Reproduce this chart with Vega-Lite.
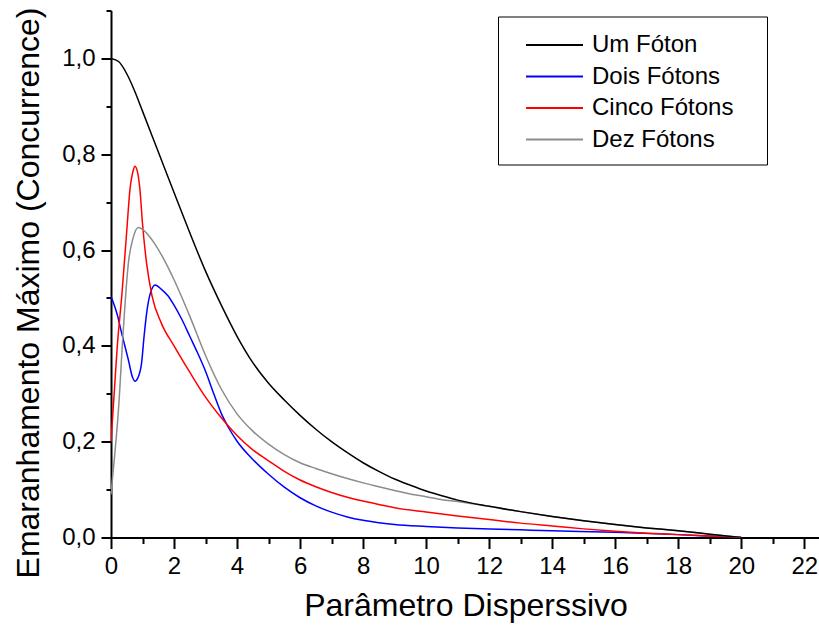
{
  "$schema": "https://vega.github.io/schema/vega-lite/v6.json",
  "width": 709,
  "height": 527,
  "autosize": {"type": "none"},
  "padding": {"left": 111, "top": 10.5, "right": 0, "bottom": 92.5},
  "background": "white",
  "config": {"view": {"stroke": null}, "font": "Liberation Sans"},
  "data": {"values": [
    {"s":"Dois Fótons","x":0,"y":0.503},{"s":"Dois Fótons","x":0.2,"y":0.465},{"s":"Dois Fótons","x":0.34,"y":0.426},{"s":"Dois Fótons","x":0.55,"y":0.371},{"s":"Dois Fótons","x":0.68,"y":0.335},{"s":"Dois Fótons","x":0.76,"y":0.326},{"s":"Dois Fótons","x":0.85,"y":0.333},{"s":"Dois Fótons","x":0.97,"y":0.364},{"s":"Dois Fótons","x":1.05,"y":0.42},{"s":"Dois Fótons","x":1.13,"y":0.468},{"s":"Dois Fótons","x":1.25,"y":0.51},{"s":"Dois Fótons","x":1.4,"y":0.527},{"s":"Dois Fótons","x":1.6,"y":0.518},{"s":"Dois Fótons","x":1.8,"y":0.505},{"s":"Dois Fótons","x":2.0,"y":0.485},{"s":"Dois Fótons","x":2.25,"y":0.455},{"s":"Dois Fótons","x":2.5,"y":0.42},{"s":"Dois Fótons","x":2.75,"y":0.385},{"s":"Dois Fótons","x":3.0,"y":0.347},{"s":"Dois Fótons","x":3.25,"y":0.302},{"s":"Dois Fótons","x":3.5,"y":0.259},{"s":"Dois Fótons","x":3.75,"y":0.227},{"s":"Dois Fótons","x":4.0,"y":0.201},{"s":"Dois Fótons","x":4.5,"y":0.163},{"s":"Dois Fótons","x":5.0,"y":0.132},{"s":"Dois Fótons","x":5.5,"y":0.105},{"s":"Dois Fótons","x":6.0,"y":0.083},{"s":"Dois Fótons","x":6.5,"y":0.066},{"s":"Dois Fótons","x":7.0,"y":0.053},{"s":"Dois Fótons","x":7.5,"y":0.043},{"s":"Dois Fótons","x":8.0,"y":0.036},{"s":"Dois Fótons","x":8.5,"y":0.031},{"s":"Dois Fótons","x":9.0,"y":0.027},{"s":"Dois Fótons","x":10.0,"y":0.023},{"s":"Dois Fótons","x":11.0,"y":0.02},{"s":"Dois Fótons","x":12.0,"y":0.018},{"s":"Dois Fótons","x":13.0,"y":0.016},{"s":"Dois Fótons","x":14.0,"y":0.014},{"s":"Dois Fótons","x":16.0,"y":0.011},{"s":"Dois Fótons","x":18.0,"y":0.006},{"s":"Dois Fótons","x":19.0,"y":0.003},{"s":"Dois Fótons","x":20.0,"y":0},
    {"s":"Cinco Fótons","x":0,"y":0.2},{"s":"Cinco Fótons","x":0.1,"y":0.3},{"s":"Cinco Fótons","x":0.2,"y":0.4},{"s":"Cinco Fótons","x":0.34,"y":0.503},{"s":"Cinco Fótons","x":0.5,"y":0.64},{"s":"Cinco Fótons","x":0.6,"y":0.725},{"s":"Cinco Fótons","x":0.7,"y":0.765},{"s":"Cinco Fótons","x":0.76,"y":0.775},{"s":"Cinco Fótons","x":0.85,"y":0.76},{"s":"Cinco Fótons","x":0.92,"y":0.725},{"s":"Cinco Fótons","x":1.0,"y":0.655},{"s":"Cinco Fótons","x":1.13,"y":0.572},{"s":"Cinco Fótons","x":1.3,"y":0.505},{"s":"Cinco Fótons","x":1.6,"y":0.447},{"s":"Cinco Fótons","x":2.0,"y":0.4},{"s":"Cinco Fótons","x":2.5,"y":0.345},{"s":"Cinco Fótons","x":3.0,"y":0.293},{"s":"Cinco Fótons","x":3.5,"y":0.25},{"s":"Cinco Fótons","x":4.0,"y":0.213},{"s":"Cinco Fótons","x":4.5,"y":0.183},{"s":"Cinco Fótons","x":5.0,"y":0.16},{"s":"Cinco Fótons","x":5.5,"y":0.138},{"s":"Cinco Fótons","x":6.0,"y":0.12},{"s":"Cinco Fótons","x":6.5,"y":0.106},{"s":"Cinco Fótons","x":7.0,"y":0.094},{"s":"Cinco Fótons","x":7.5,"y":0.084},{"s":"Cinco Fótons","x":8.0,"y":0.076},{"s":"Cinco Fótons","x":8.5,"y":0.069},{"s":"Cinco Fótons","x":9.0,"y":0.062},{"s":"Cinco Fótons","x":10.0,"y":0.053},{"s":"Cinco Fótons","x":11.0,"y":0.045},{"s":"Cinco Fótons","x":12.0,"y":0.0375},{"s":"Cinco Fótons","x":13.0,"y":0.03},{"s":"Cinco Fótons","x":14.0,"y":0.024},{"s":"Cinco Fótons","x":15.0,"y":0.018},{"s":"Cinco Fótons","x":16.0,"y":0.013},{"s":"Cinco Fótons","x":17.0,"y":0.009},{"s":"Cinco Fótons","x":18.0,"y":0.006},{"s":"Cinco Fótons","x":19.0,"y":0.003},{"s":"Cinco Fótons","x":20.0,"y":0},
    {"s":"Dez Fótons","x":0,"y":0.09},{"s":"Dez Fótons","x":0.1,"y":0.16},{"s":"Dez Fótons","x":0.23,"y":0.26},{"s":"Dez Fótons","x":0.39,"y":0.433},{"s":"Dez Fótons","x":0.55,"y":0.572},{"s":"Dez Fótons","x":0.7,"y":0.625},{"s":"Dez Fótons","x":0.87,"y":0.647},{"s":"Dez Fótons","x":1.0,"y":0.643},{"s":"Dez Fótons","x":1.2,"y":0.63},{"s":"Dez Fótons","x":1.4,"y":0.612},{"s":"Dez Fótons","x":1.7,"y":0.578},{"s":"Dez Fótons","x":2.0,"y":0.538},{"s":"Dez Fótons","x":2.5,"y":0.462},{"s":"Dez Fótons","x":3.0,"y":0.38},{"s":"Dez Fótons","x":3.5,"y":0.31},{"s":"Dez Fótons","x":4.0,"y":0.258},{"s":"Dez Fótons","x":4.5,"y":0.222},{"s":"Dez Fótons","x":5.0,"y":0.195},{"s":"Dez Fótons","x":5.5,"y":0.173},{"s":"Dez Fótons","x":6.0,"y":0.156},{"s":"Dez Fótons","x":6.5,"y":0.144},{"s":"Dez Fótons","x":7.0,"y":0.133},{"s":"Dez Fótons","x":7.5,"y":0.123},{"s":"Dez Fótons","x":8.0,"y":0.114},{"s":"Dez Fótons","x":8.5,"y":0.106},{"s":"Dez Fótons","x":9.0,"y":0.098},{"s":"Dez Fótons","x":9.5,"y":0.091},{"s":"Dez Fótons","x":10.0,"y":0.085},{"s":"Dez Fótons","x":10.5,"y":0.079},{"s":"Dez Fótons","x":11.0,"y":0.075},{"s":"Dez Fótons","x":12.0,"y":0.065},{"s":"Dez Fótons","x":13.0,"y":0.054},{"s":"Dez Fótons","x":14.0,"y":0.044},{"s":"Dez Fótons","x":15.0,"y":0.035},{"s":"Dez Fótons","x":16.0,"y":0.027},{"s":"Dez Fótons","x":17.0,"y":0.02},{"s":"Dez Fótons","x":18.0,"y":0.014},{"s":"Dez Fótons","x":19.0,"y":0.007},{"s":"Dez Fótons","x":20.0,"y":0},
    {"s":"Um Fóton","x":0,"y":1.0},{"s":"Um Fóton","x":0.25,"y":0.993},{"s":"Um Fóton","x":0.5,"y":0.968},{"s":"Um Fóton","x":0.75,"y":0.932},{"s":"Um Fóton","x":1.0,"y":0.89},{"s":"Um Fóton","x":1.5,"y":0.805},{"s":"Um Fóton","x":2.0,"y":0.72},{"s":"Um Fóton","x":2.5,"y":0.636},{"s":"Um Fóton","x":3.0,"y":0.556},{"s":"Um Fóton","x":3.5,"y":0.485},{"s":"Um Fóton","x":4.0,"y":0.42},{"s":"Um Fóton","x":4.5,"y":0.365},{"s":"Um Fóton","x":5.0,"y":0.322},{"s":"Um Fóton","x":5.5,"y":0.287},{"s":"Um Fóton","x":6.0,"y":0.255},{"s":"Um Fóton","x":6.5,"y":0.226},{"s":"Um Fóton","x":7.0,"y":0.2},{"s":"Um Fóton","x":7.5,"y":0.177},{"s":"Um Fóton","x":8.0,"y":0.156},{"s":"Um Fóton","x":8.5,"y":0.138},{"s":"Um Fóton","x":9.0,"y":0.122},{"s":"Um Fóton","x":9.5,"y":0.109},{"s":"Um Fóton","x":10.0,"y":0.097},{"s":"Um Fóton","x":10.5,"y":0.087},{"s":"Um Fóton","x":11.0,"y":0.078},{"s":"Um Fóton","x":12.0,"y":0.065},{"s":"Um Fóton","x":13.0,"y":0.054},{"s":"Um Fóton","x":14.0,"y":0.044},{"s":"Um Fóton","x":15.0,"y":0.035},{"s":"Um Fóton","x":16.0,"y":0.027},{"s":"Um Fóton","x":17.0,"y":0.02},{"s":"Um Fóton","x":18.0,"y":0.014},{"s":"Um Fóton","x":19.0,"y":0.007},{"s":"Um Fóton","x":20.0,"y":0}
  ]},
  "mark": {"type": "line", "strokeWidth": 1.5, "interpolate": "monotone", "clip": true},
  "encoding": {
    "x": {"field": "x", "type": "quantitative",
      "scale": {"domain": [0, 22.5], "nice": false, "zero": false},
      "axis": {
        "values": [0,1,2,3,4,5,6,7,8,9,10,11,12,13,14,15,16,17,18,19,20,21,22],
        "labelExpr": "datum.value % 2 == 0 ? datum.label : ''",
        "title": "Parâmetro Disperssivo",
        "grid": false,
        "domainColor": "#000", "domainWidth": 2,
        "tickColor": "#000", "tickWidth": 2,
        "tickSize": {"condition": {"test": {"field": "value", "oneOf": [0,2,4,6,8,10,12,14,16,18,20,22]}, "value": 11}, "value": 6},
        "labelFontSize": 24, "labelColor": "#000", "labelPadding": 6, "labelFlush": false, "labelOverlap": false,
        "titleFontSize": 32, "titleFontWeight": "normal", "titleColor": "#000", "titlePadding": 12
      }},
    "y": {"field": "y", "type": "quantitative",
      "scale": {"domain": [0, 1.1], "nice": false},
      "axis": {
        "values": [0,0.1,0.2,0.3,0.4,0.5,0.6,0.7,0.8,0.9,1.0,1.1],
        "labelExpr": "(round(datum.value*10) % 2 == 0 && datum.value < 1.05) ? replace(format(datum.value, '.1f'), '.', ',') : ''",
        "title": "Emaranhamento Máximo (Concurrence)",
        "grid": false,
        "domainColor": "#000", "domainWidth": 2,
        "tickColor": "#000", "tickWidth": 2,
        "tickSize": {"condition": {"test": {"field": "value", "oneOf": [0,0.2,0.4,0.6,0.8,1]}, "value": 10}, "value": 5},
        "labelFontSize": 24, "labelColor": "#000", "labelPadding": 6, "labelFlush": false, "labelOverlap": false,
        "titleFontSize": 32, "titleFontWeight": "normal", "titleColor": "#000",
        "titleX": -73, "titleY": 282, "titleAngle": 270, "titleAlign": "center", "titleBaseline": "alphabetic"
      }},
    "color": {"field": "s", "type": "nominal",
      "scale": {"domain": ["Um Fóton", "Dois Fótons", "Cinco Fótons", "Dez Fótons"],
                "range": ["#000000", "#0000ff", "#ff0000", "#8c8c8c"]},
      "legend": {
        "title": null, "orient": "none", "legendX": 387, "legendY": 6,
        "symbolType": "M-2,0H2", "symbolSize": 812, "symbolStrokeWidth": 2, "symbolFillColor": "transparent",
        "symbolOffset": 28, "padding": 13, "rowPadding": 3.5,
        "labelFontSize": 24, "labelColor": "#000", "labelOffset": 22, "labelLimit": 400,
        "labelExpr": "datum.label + '\u00a0\u00a0\u00a0\u200b'",
        "strokeColor": "#000", "fillColor": "white"
      }}
  }
}
